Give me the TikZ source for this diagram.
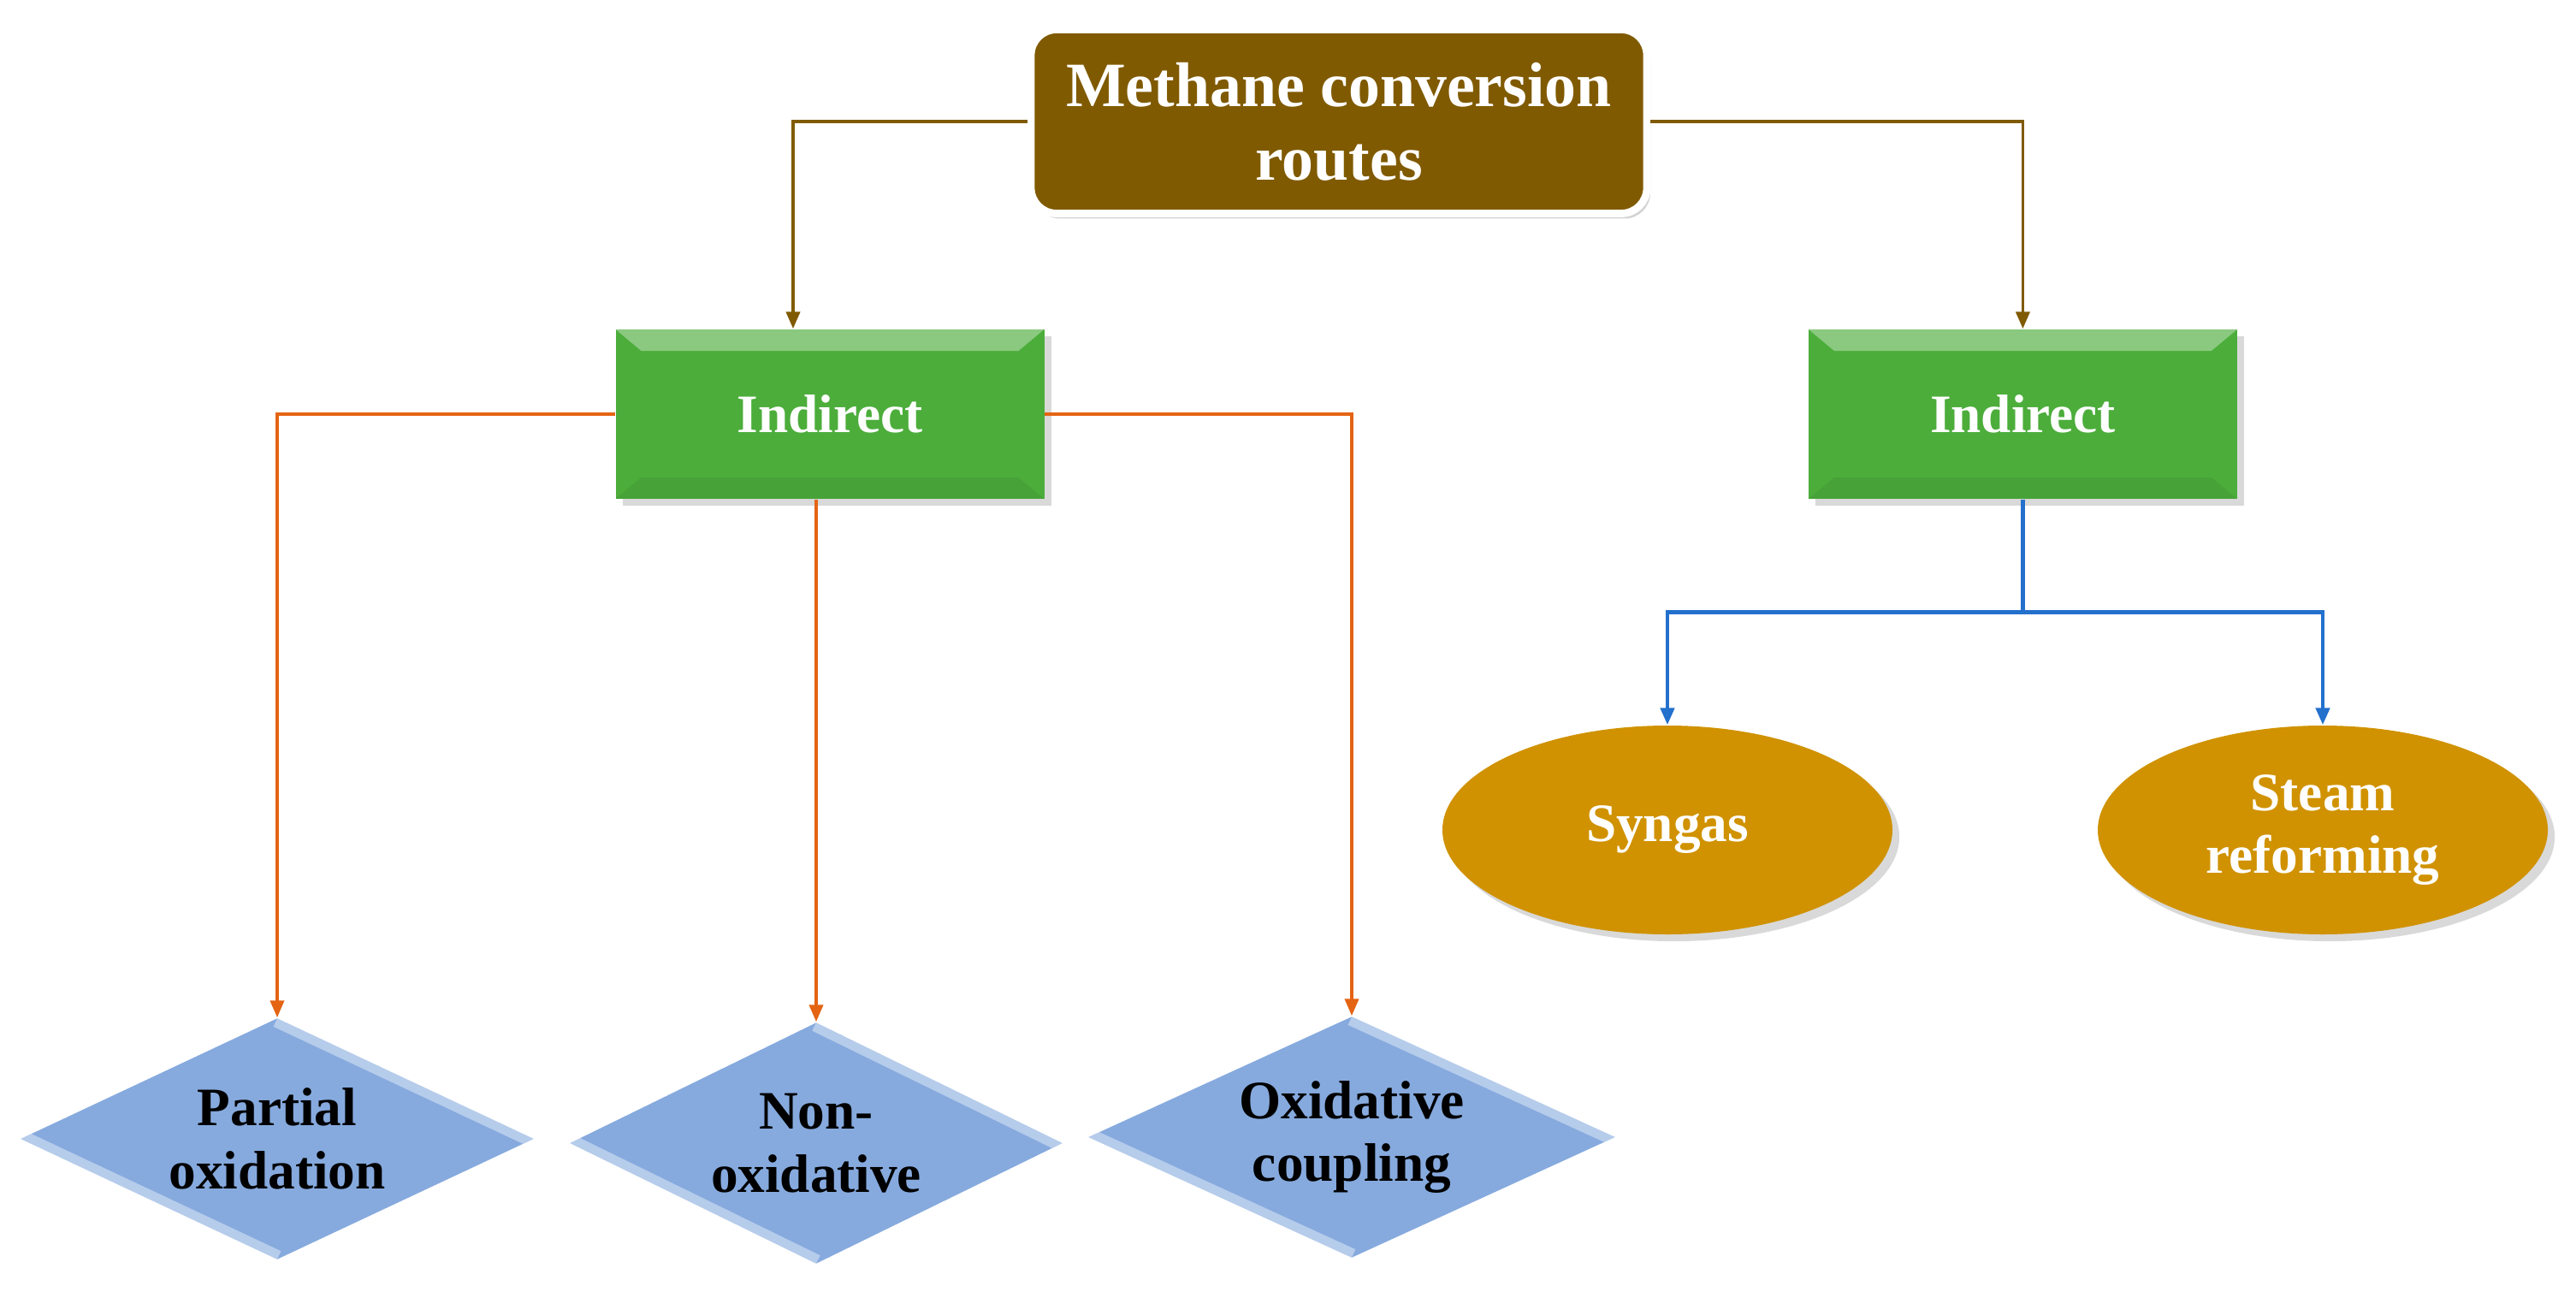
\documentclass[tikz,border=0pt]{standalone}
\usepackage{fontspec}
\setmainfont{Liberation Serif}
\usetikzlibrary{positioning}
\usetikzlibrary{shapes.geometric}
\usetikzlibrary{shadows}
\usetikzlibrary{arrows.meta}

\definecolor{routebrown}{RGB}{128,90,0}
\definecolor{boxgreen}{RGB}{76,173,59}
\definecolor{diamblue}{RGB}{134,170,222}
\definecolor{ellgold}{RGB}{208,146,0}
\definecolor{linkorange}{RGB}{228,100,20}
\definecolor{linkblue}{RGB}{35,112,205}

\tikzset{
	titlebox/.style={rectangle, rounded corners=0.3cm, fill=routebrown, draw=white, line width=2.5pt,
		drop shadow={opacity=0.35, shadow xshift=0.04cm, shadow yshift=-0.06cm},
		minimum width=7.2cm, minimum height=2.15cm, text=white,
		align=center, font=\fontsize{21}{24.5}\selectfont\bfseries},
	greenbox/.style={rectangle, fill=boxgreen, minimum width=5.01cm, minimum height=1.98cm,
		text=white, font=\fontsize{18}{21}\selectfont\bfseries, drop shadow={opacity=0.3},
		path picture={
			\fill[white, opacity=0.35] (path picture bounding box.north west) -- (path picture bounding box.north east)
				-- ([xshift=-0.3cm,yshift=-0.25cm]path picture bounding box.north east)
				-- ([xshift=0.3cm,yshift=-0.25cm]path picture bounding box.north west) -- cycle;
			\fill[black, opacity=0.06] (path picture bounding box.south west) -- (path picture bounding box.south east)
				-- ([xshift=-0.3cm,yshift=0.25cm]path picture bounding box.south east)
				-- ([xshift=0.3cm,yshift=0.25cm]path picture bounding box.south west) -- cycle;
		}},
	routediamond/.style={diamond, aspect=2.1, fill=diamblue, minimum width=6cm, minimum height=2.82cm,
		inner sep=0pt, align=center, font=\fontsize{18}{21}\selectfont\bfseries,
		path picture={
			\draw[white, opacity=0.4, line width=6pt] (path picture bounding box.north) -- (path picture bounding box.east);
			\draw[white, opacity=0.4, line width=6pt] (path picture bounding box.west) -- (path picture bounding box.south);
		}},
	goldellipse/.style={ellipse, fill=ellgold, minimum width=5.26cm, minimum height=2.44cm,
		text=white, align=center, font=\fontsize{18}{21}\selectfont\bfseries, drop shadow={opacity=0.3}},
	link/.style={line width=1.1pt, -{Triangle[length=2mm,width=1.6mm]}}
}

\begin{document}
\begin{tikzpicture}
	  \useasboundingbox (0,0) rectangle (30.11,-15.10);

	  % Top level
	  \node[titlebox] (title) at (15.65,-1.42) {Methane conversion\\routes};

	  % Second level boxes
	  \node[greenbox] (indL) at (9.70,-4.84) {Indirect};
	  \node[greenbox, right=8.92cm of indL] (indR) {Indirect};

	  % Diamonds under the left box
	  \node[routediamond] (pox) at (3.24,-13.31) {Partial\\oxidation};
	  \node[routediamond, minimum width=5.76cm] (nox) at (9.54,-13.36) {Non-\\oxidative};
	  \node[routediamond, minimum width=6.16cm] (ocp) at (15.80,-13.29) {Oxidative\\coupling};

	  % Ellipses under the right box
	  \node[goldellipse] (syn) at (19.49,-9.70) {Syngas};
	  \node[goldellipse] (stm) at (27.15,-9.70) {Steam\\reforming};

	  % Arrows from the title
	  \draw[link, routebrown] (title.west) -| ([xshift=-0.43cm]indL.north);
	  \draw[link, routebrown] (title.east) -| (indR.north);

	  % Arrows from the left box
	  \draw[link, linkorange] (indL.west) -| (pox.north);
	  \draw[link, linkorange] (nox.north |- indL.south) -- (nox.north);
	  \draw[link, linkorange] (indL.east) -| (ocp.north);

	  % Arrows from the right box
	  \coordinate[below=1.32cm of indR.south] (split);
	  \draw[line width=1.3pt, linkblue] (indR.south) -- (split);
	  \draw[link, line width=1.3pt, linkblue] (split) -| (syn.north);
	  \draw[link, line width=1.3pt, linkblue] (split) -| (stm.north);
\end{tikzpicture}
\end{document}
